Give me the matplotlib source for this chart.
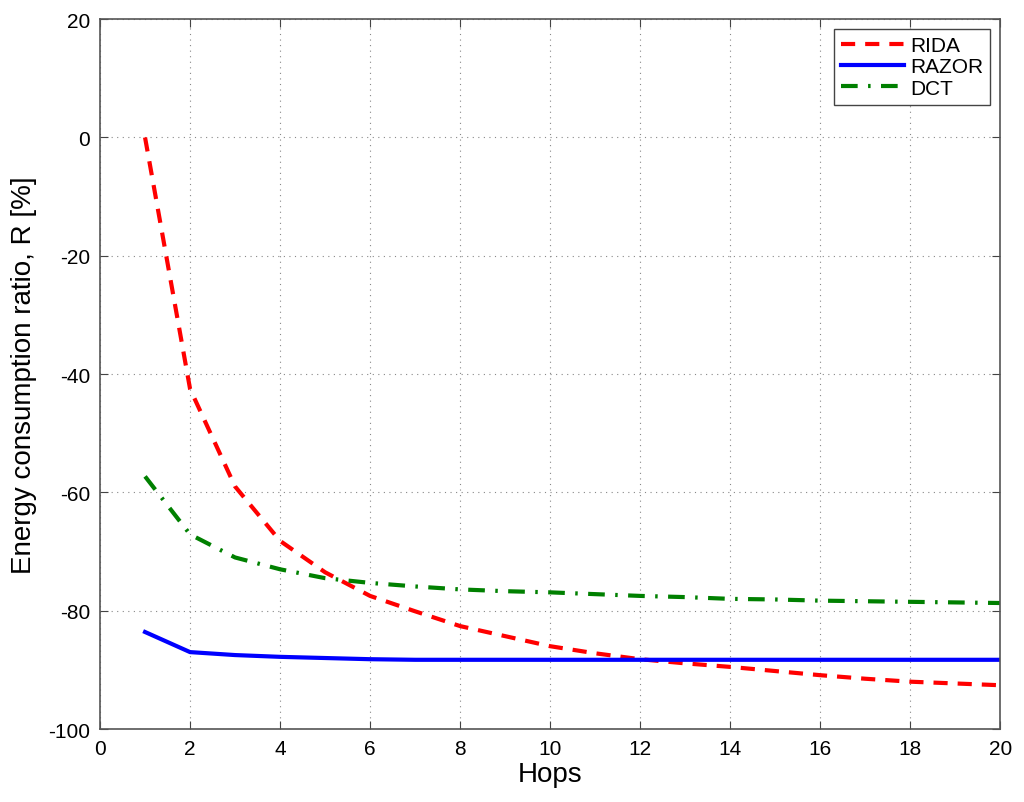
import matplotlib.pyplot as plt
import numpy as np

plt.switch_backend('Agg')
plt.rcParams['font.family'] = ['Liberation Sans', 'DejaVu Sans']
plt.rcParams['axes.unicode_minus'] = False

hops = [1, 2, 3, 4, 5, 6, 7, 8, 9, 10, 11, 12, 13, 14, 15, 16, 17, 18, 19, 20]
rida = [0.0, -42.5, -59.0, -68.2, -73.5, -77.5, -80.1, -82.6, -84.3, -86.0,
        -87.2, -88.2, -88.9, -89.5, -90.2, -90.9, -91.5, -92.0, -92.3, -92.6]
razor = [-83.6, -87.0, -87.5, -87.8, -88.0, -88.2, -88.3, -88.3, -88.3, -88.3,
         -88.3, -88.3, -88.3, -88.3, -88.3, -88.3, -88.3, -88.3, -88.3, -88.3]
dct = [-57.3, -67.1, -71.0, -73.0, -74.5, -75.3, -75.9, -76.4, -76.7, -76.9,
       -77.2, -77.5, -77.7, -78.0, -78.1, -78.3, -78.4, -78.5, -78.6, -78.7]

fig = plt.figure(figsize=(10.24, 8.03), dpi=100)
ax = fig.add_axes([0.0977, 0.0909, 0.879, 0.884])

ax.plot(hops, rida, color='red', linestyle=(0, (3.4, 2.4)), linewidth=3, label='RIDA')
ax.plot(hops, razor, color='blue', linestyle='-', linewidth=3, label='RAZOR')
ax.plot(hops, dct, color='green', linestyle=(0, (4, 2.5, 0.6, 2.5)), linewidth=3, label='DCT')

ax.set_xlim(0, 20)
ax.set_ylim(-100, 20)
ax.set_xticks(np.arange(0, 21, 2))
ax.set_yticks(np.arange(-100, 21, 20))
ax.tick_params(direction='in', length=6, labelsize=15, top=True, right=True,
               color='#444444', pad=7)
ax.grid(True, linestyle=(0, (1, 4)), color='#888888', linewidth=0.8)
for s in ax.spines.values():
    s.set_color('#555555')
    s.set_linewidth(1.2)

ax.set_xlabel('Hops', fontsize=20, labelpad=2)
ax.set_ylabel('Energy consumption ratio, R [%]', fontsize=20, labelpad=8)

leg = ax.legend(loc='upper right', fontsize=15, fancybox=False, framealpha=1,
                edgecolor='#444444', handlelength=3.0, borderpad=0.35, labelspacing=0.1,
                handletextpad=0.3, borderaxespad=0, bbox_to_anchor=(0.989, 0.986))
leg.get_frame().set_linewidth(1.0)

fig.savefig('out.png', dpi=100)
